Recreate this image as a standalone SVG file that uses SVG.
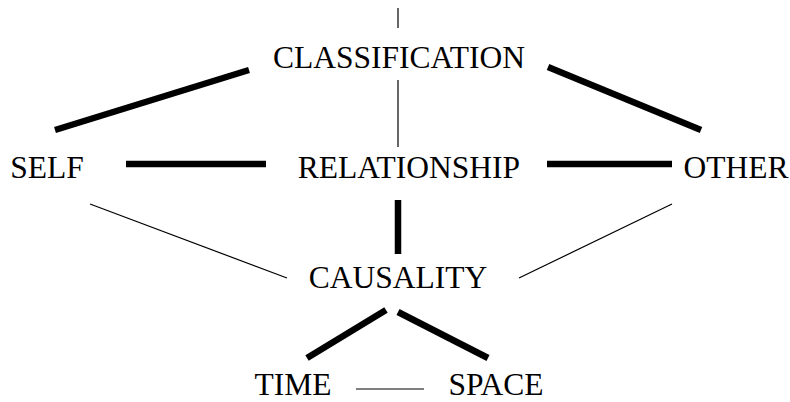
<svg xmlns="http://www.w3.org/2000/svg" width="790" height="402" viewBox="0 0 790 402">
<style>
text{font-family:"Liberation Serif","Times New Roman",serif;font-size:31.5px;fill:#000;text-anchor:middle}
.thick{stroke:#000;stroke-width:6.5;fill:none}
.thin{stroke:#000;stroke-width:1.2;fill:none}
</style>
<rect width="790" height="402" fill="#fff"/>
<g id="connectors">
<line class="thin" x1="398" y1="8" x2="398" y2="28"/>
<line class="thick" x1="55" y1="130" x2="249" y2="70"/>
<line class="thick" x1="548" y1="67" x2="701" y2="130"/>
<line class="thin" x1="398" y1="80" x2="398" y2="147"/>
<line class="thick" x1="126" y1="164" x2="266" y2="164"/>
<line class="thick" x1="547" y1="164" x2="672" y2="164"/>
<line class="thin" x1="90" y1="204" x2="287" y2="278"/>
<line class="thick" x1="398" y1="200" x2="398" y2="254"/>
<line class="thin" x1="672" y1="204" x2="519" y2="278"/>
<line class="thick" x1="386" y1="310" x2="307" y2="358"/>
<line class="thick" x1="398" y1="312" x2="488" y2="358"/>
<line class="thin" x1="356" y1="389" x2="424" y2="389"/>
</g>
<g id="classification"><text x="399" y="68">CLASSIFICATION</text></g>
<g id="self"><text x="47" y="178">SELF</text></g>
<g id="relationship"><text x="409" y="178">RELATIONSHIP</text></g>
<g id="other"><text x="736" y="178">OTHER</text></g>
<g id="causality"><text x="398" y="288">CAUSALITY</text></g>
<g id="time"><text x="293" y="395">TIME</text></g>
<g id="space"><text x="496" y="395">SPACE</text></g>
</svg>
